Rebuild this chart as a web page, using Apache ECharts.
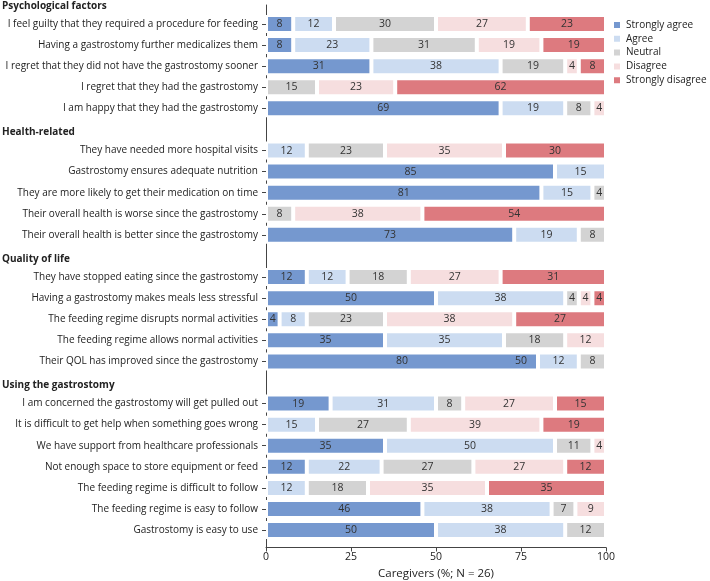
<!DOCTYPE html>
<html>
<head>
<meta charset="utf-8">
<script src="https://cdn.jsdelivr.net/npm/echarts@6/dist/echarts.min.js"></script>
<style>
html,body{margin:0;padding:0;background:#fff;}
#chart{width:710px;height:581px;}
</style>
</head>
<body>
<div id="chart"></div>
<script>
// Rows top to bottom; header rows marked with '#'
const categories = [
  '#Psychological factors',
  'I feel guilty that they required a procedure for feeding',
  'Having a gastrostomy further medicalizes them',
  'I regret that they did not have the gastrostomy sooner',
  'I regret that they had the gastrostomy',
  'I am happy that they had the gastrostomy',
  '#Health-related',
  'They have needed more hospital visits',
  'Gastrostomy ensures adequate nutrition',
  'They are more likely to get their medication on time',
  'Their overall health is worse since the gastrostomy',
  'Their overall health is better since the gastrostomy',
  '#Quality of life',
  'They have stopped eating since the gastrostomy',
  'Having a gastrostomy makes meals less stressful',
  'The feeding regime disrupts normal activities',
  'The feeding regime allows normal activities',
  'Their QOL has improved since the gastrostomy',
  '#Using the gastrostomy',
  'I am concerned the gastrostomy will get pulled out',
  'It is difficult to get help when something goes wrong',
  'We have support from healthcare professionals',
  'Not enough space to store equipment or feed',
  'The feeding regime is difficult to follow',
  'The feeding regime is easy to follow',
  'Gastrostomy is easy to use'
];
const seriesNames = ['Strongly agree','Agree','Neutral','Disagree','Strongly disagree'];
const stronglyAgree    = [null, 8, 8,31,null,69, null,null,85,81,null,73, null,12,50, 4,35,80, null,19,null,35,12,null,46,50];
const agree            = [null,12,23,38,null,19, null,12,15,15,null,19, null,12,38, 8,35,12, null,31,15,50,22,12,38,38];
const neutral          = [null,30,31,19,15, 8, null,23,null,4, 8, 8, null,18, 4,23,18, 8, null, 8,27,11,27,18, 7,12];
const disagree         = [null,27,19, 4,23, 4, null,35,null,null,38,null, null,27, 4,38,12,null, null,27,39, 4,27,35, 9,null];
const stronglyDisagree = [null,23,19, 8,62,null, null,30,null,null,54,null, null,31, 4,27,null,null, null,15,19,null,12,35,null,null];
// stray extra label printed on the QOL bar in the original figure
const extraLabelRow = 'Their QOL has improved since the gastrostomy';
const extraLabelAt = 75;
const extraLabelText = '50';
const xTicks = [0, 25, 50, 75, 100];
const xAxisTitle = 'Caregivers (%; N = 26)';

const colors = ['#7598cf','#ccdcf1','#d3d3d3','#f6dedf','#dd7a7f'];
const values = [stronglyAgree, agree, neutral, disagree, stronglyDisagree];
const FONT = 'Open Sans';

const chart = echarts.init(document.getElementById('chart'), null, {renderer:'canvas'});

const series = seriesNames.map((name, i) => {
  const s = {
    name, type:'bar', stack:'total', xAxisIndex:0, yAxisIndex:0,
    barWidth: 18,
    data: values[i],
    itemStyle:{color:colors[i], borderColor:'#fff', borderWidth:2},
    label:{show:true, position:'inside', color:'#333', fontFamily:FONT, fontSize:10.5,
      formatter: p => (p.value ? String(p.value) : '')},
    emphasis:{disabled:true},
    animation:false
  };
  if (i === 0) {
    s.markPoint = {
      symbol:'rect', symbolSize:0, silent:true, animation:false,
      data:[{coord:[extraLabelAt, extraLabelRow], value: extraLabelText}],
      label:{show:true, position:'inside', color:'#333', fontFamily:FONT, fontSize:10.5, formatter: extraLabelText}
    };
  }
  return s;
});

const option = {
  animation:false,
  textStyle:{fontFamily:FONT},
  legend:{
    orient:'vertical', left:612, top:20, padding:0,
    itemWidth:8, itemHeight:8, itemGap:3.8,
    icon:'rect',
    data: seriesNames,
    textStyle:{fontFamily:FONT, fontSize:10, color:'#222'}
  },
  grid:[
    {left:266, right:104, top:-7.6, bottom:40.4, containLabel:false, outerBoundsMode:'none'},
    {left:266, right:104, top:5, bottom:33.5, containLabel:false, outerBoundsMode:'none'}
  ],
  xAxis:[
    {gridIndex:0, type:'value', min:0, max:100, show:false},
    {gridIndex:1, type:'value', min:0, max:100, interval:25,
      axisLine:{show:true, lineStyle:{color:'#444', width:1}},
      axisTick:{show:true, length:4, lineStyle:{color:'#444'}},
      splitLine:{show:false},
      axisLabel:{fontFamily:FONT, fontSize:10.5, color:'#222', margin:4,
        formatter: v => xTicks.includes(v) ? String(v) : ''},
      name:xAxisTitle, nameLocation:'middle', nameGap:19,
      nameTextStyle:{fontFamily:FONT, fontSize:11.5, color:'#222'}
    }
  ],
  yAxis:[
    {gridIndex:0, type:'category', inverse:true, data:categories,
      axisLine:{show:false},
      axisTick:{show:true, length:4, alignWithLabel:true, lineStyle:{color:'#444'},
        interval:(idx, val) => !String(val).startsWith('#')},
      splitLine:{show:false},
      axisLabel:{interval:0, margin:8, fontFamily:FONT, fontSize:10, color:'#222',
        formatter: v => v.startsWith('#') ? '{h|' + v.slice(1) + '}' : v,
        rich:{h:{width:256, align:'left', fontWeight:'bold', fontFamily:FONT, fontSize:10, color:'#222', padding:[6,0,0,0]}}
      }
    },
    {gridIndex:1, type:'value', min:0, max:1, show:true,
      axisLine:{show:true, lineStyle:{color:'#444', width:1}},
      axisTick:{show:false}, axisLabel:{show:false}, splitLine:{show:false}
    }
  ],
  series
};
chart.setOption(option);
</script>
</body>
</html>
